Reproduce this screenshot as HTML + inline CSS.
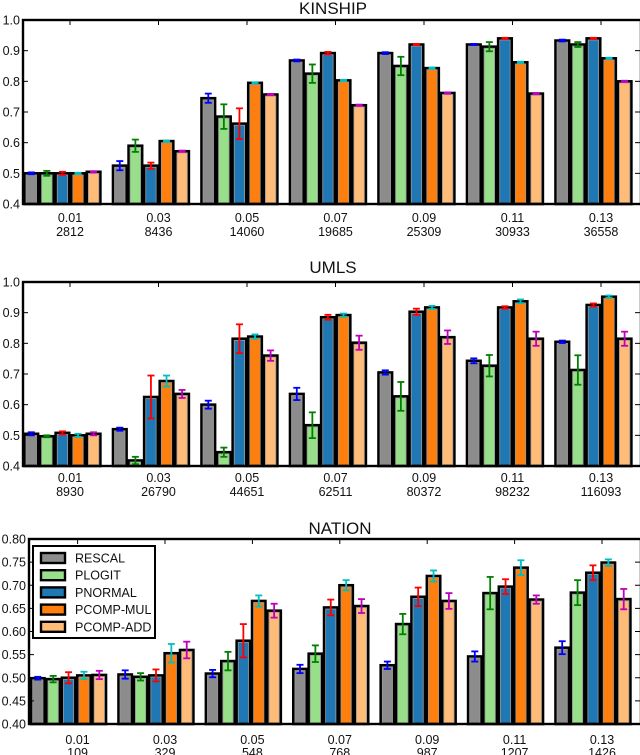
<!DOCTYPE html>
<html><head><meta charset="utf-8"><style>
html,body{margin:0;padding:0;background:#fff;width:640px;height:755px;overflow:hidden}
svg text{font-family:"Liberation Sans",sans-serif;fill:#111}
</style></head><body>
<svg id="root" width="640" height="755" viewBox="0 0 640 755"></svg>
<script>
const series = ["RESCAL","PLOGIT","PNORMAL","PCOMP-MUL","PCOMP-ADD"];
const fills = ["#8c8c8c","#98df8a","#1f77b4","#ff7f0e","#ffbb78"];
const errColors = ["#0000ff","#008000","#ff0000","#00bfbf","#bf00bf"];

const kinshipCats = ["0.01","0.03","0.05","0.07","0.09","0.11","0.13"];
const kinshipCounts = ["2812","8436","14060","19685","25309","30933","36558"];
const kinshipVals = [
 [0.50,0.525,0.745,0.868,0.892,0.920,0.933],
 [0.50,0.590,0.685,0.825,0.850,0.913,0.920],
 [0.50,0.525,0.662,0.892,0.920,0.940,0.940],
 [0.50,0.605,0.795,0.803,0.843,0.862,0.875],
 [0.505,0.572,0.757,0.722,0.762,0.760,0.800]];
const kinshipErr = [
 [0.003,0.015,0.015,0.003,0.003,0.002,0.003],
 [0.008,0.02,0.04,0.03,0.03,0.015,0.008],
 [0.005,0.01,0.05,0.004,0.002,0.002,0.002],
 [0.002,0.002,0.002,0.002,0.002,0.002,0.002],
 [0.002,0.002,0.002,0.002,0.002,0.002,0.002]];

const umlsCats = ["0.01","0.03","0.05","0.07","0.09","0.11","0.13"];
const umlsCounts = ["8930","26790","44651","62511","80372","98232","116093"];
const umlsVals = [
 [0.505,0.520,0.600,0.635,0.705,0.743,0.805],
 [0.497,0.418,0.445,0.533,0.627,0.727,0.713],
 [0.508,0.625,0.815,0.885,0.903,0.917,0.925],
 [0.500,0.677,0.822,0.892,0.917,0.937,0.952],
 [0.505,0.635,0.760,0.802,0.820,0.815,0.815]];
const umlsErr = [
 [0.005,0.005,0.013,0.02,0.007,0.008,0.004],
 [0.003,0.012,0.015,0.042,0.047,0.035,0.048],
 [0.005,0.07,0.047,0.008,0.01,0.004,0.005],
 [0.005,0.018,0.007,0.005,0.005,0.006,0.004],
 [0.005,0.013,0.017,0.023,0.022,0.023,0.023]];

const nationCats = ["0.01","0.03","0.05","0.07","0.09","0.11","0.13"];
const nationCounts = ["109","329","548","768","987","1207","1426"];
const nationVals = [
 [0.499,0.507,0.509,0.519,0.527,0.546,0.565],
 [0.497,0.502,0.536,0.552,0.616,0.683,0.684],
 [0.500,0.505,0.580,0.652,0.675,0.697,0.727],
 [0.505,0.553,0.666,0.700,0.720,0.738,0.749],
 [0.506,0.560,0.645,0.655,0.666,0.669,0.670]];
const nationErr = [
 [0.003,0.009,0.008,0.009,0.008,0.011,0.014],
 [0.007,0.008,0.02,0.018,0.022,0.035,0.027],
 [0.012,0.013,0.036,0.017,0.02,0.016,0.016],
 [0.008,0.02,0.012,0.011,0.012,0.016,0.007],
 [0.009,0.018,0.015,0.015,0.017,0.009,0.022]];

const kinshipTicks = [0.4,0.5,0.6,0.7,0.8,0.9,1.0];
const umlsTicks = [0.4,0.5,0.6,0.7,0.8,0.9,1.0];
const nationTicks = [0.40,0.45,0.50,0.55,0.60,0.65,0.70,0.75,0.80];

const NS="http://www.w3.org/2000/svg";
const root=document.getElementById('root');
function mk(tag,attrs,parent){const e=document.createElementNS(NS,tag);for(const k in attrs)e.setAttribute(k,attrs[k]);(parent||root).appendChild(e);return e;}

function drawChart(cfg){
  const g=mk('g',{});
  
  
  const L=cfg.left,R=641,T=cfg.top,B=cfg.bottom;
  const ymin=cfg.ticks[0],ymax=cfg.ticks[cfg.ticks.length-1];
  const y=v=>B-(v-ymin)/(ymax-ymin)*(B-T);
  const pitch=cfg.pitch, bw=pitch*0.176;
  const x0=i=>cfg.firstTick-cfg.tickOff+i*pitch;
  const t=mk('text',{x:cfg.titleX,y:cfg.titleY,'font-size':17,'text-anchor':'middle'},g);
  t.textContent=cfg.title;
  
  
  // bars
  for(let s=0;s<5;s++){
    for(let i=0;i<cfg.cats.length;i++){
      const v=cfg.vals[s][i];
      const bx=x0(i)+s*bw, by=y(v);
      const r=mk('rect',{x:bx+1,y:by,width:bw-2,height:B-by,fill:fills[s],stroke:'#000','stroke-width':2.6},g);
      
      
      mk('rect',{x:bx+2.6,y:by+1.6,width:bw-5.2,height:Math.max(0,B-by-1.6),fill:'none',stroke:'#999','stroke-width':0.8},g);
    }
  }
  // error bars
  for(let s=0;s<5;s++){
    for(let i=0;i<cfg.cats.length;i++){
      const v=cfg.vals[s][i],e=cfg.errs[s][i];
      const cx=x0(i)+s*bw+bw/2;
      const eg=mk('g',{stroke:errColors[s],'stroke-width':1.8},g);
      
      
      mk('line',{x1:cx,x2:cx,y1:y(v-e),y2:y(v+e)},eg);
      mk('line',{x1:cx-3.5,x2:cx+3.5,y1:y(v-e),y2:y(v-e)},eg);
      mk('line',{x1:cx-3.5,x2:cx+3.5,y1:y(v+e),y2:y(v+e)},eg);
    }
  }
  // frame
  const f=mk('rect',{x:L,y:T,width:R-L,height:B-T,fill:'none',stroke:'#000','stroke-width':2.4},g);
  
  
  // y ticks
  cfg.ticks.forEach(v=>{
    const yy=y(v);
    mk('line',{x1:L,x2:L+5,y1:yy,y2:yy,stroke:'#000','stroke-width':1},g);
    mk('line',{x1:R-6,x2:R,y1:yy,y2:yy,stroke:'#000','stroke-width':1},g);
    const tl=mk('text',{x:L-3,y:yy+4.5,'font-size':12.5,'text-anchor':'end'},g);
    tl.textContent=v.toFixed(cfg.dec);
    
    
  });
  // x ticks
  cfg.cats.forEach((c,i)=>{
    const tx=cfg.firstTick+i*pitch;
    mk('line',{x1:tx,x2:tx,y1:T,y2:T+5,stroke:'#000','stroke-width':1},g);
    mk('line',{x1:tx,x2:tx,y1:B-5,y2:B,stroke:'#000','stroke-width':1},g);
    const a=mk('text',{x:tx,y:cfg.lab1,'font-size':12.5,'text-anchor':'middle'},g);
    a.textContent=c;
    
    
    const b=mk('text',{x:tx,y:cfg.lab2,'font-size':12.5,'text-anchor':'middle'},g);
    b.textContent=cfg.counts[i];
    
    
  });
}

drawChart({name:'kinship',title:'KINSHIP',titleX:333,titleY:14,left:23,top:20,bottom:204,ticks:kinshipTicks,dec:1,
  cats:kinshipCats,counts:kinshipCounts,vals:kinshipVals,errs:kinshipErr,firstTick:70,tickOff:46.5,pitch:88.5,lab1:222,lab2:236});
drawChart({name:'umls',title:'UMLS',titleX:333,titleY:273,left:23,top:282,bottom:466,ticks:umlsTicks,dec:1,
  cats:umlsCats,counts:umlsCounts,vals:umlsVals,errs:umlsErr,firstTick:70,tickOff:46.5,pitch:88.5,lab1:482,lab2:496});
drawChart({name:'nation',title:'NATION',titleX:340,titleY:534,left:29,top:539,bottom:724,ticks:nationTicks,dec:2,
  cats:nationCats,counts:nationCounts,vals:nationVals,errs:nationErr,firstTick:77.6,tickOff:47.5,pitch:87.4,lab1:744,lab2:757});

// legend
const lg=mk('g',{});


mk('rect',{x:33,y:546,width:122,height:92,fill:'#fff',stroke:'#000','stroke-width':2},lg);
series.forEach((s,i)=>{
  const yy=558+i*17.2;
  const e=mk('g',{},lg);
  
  
  mk('rect',{x:41,y:yy-5,width:24,height:10,fill:fills[i],stroke:'#000','stroke-width':2.4},e);
  const t=mk('text',{x:75,y:yy+4.5,'font-size':12.5},e);
  t.textContent=s;
});
</script>
</body></html>
